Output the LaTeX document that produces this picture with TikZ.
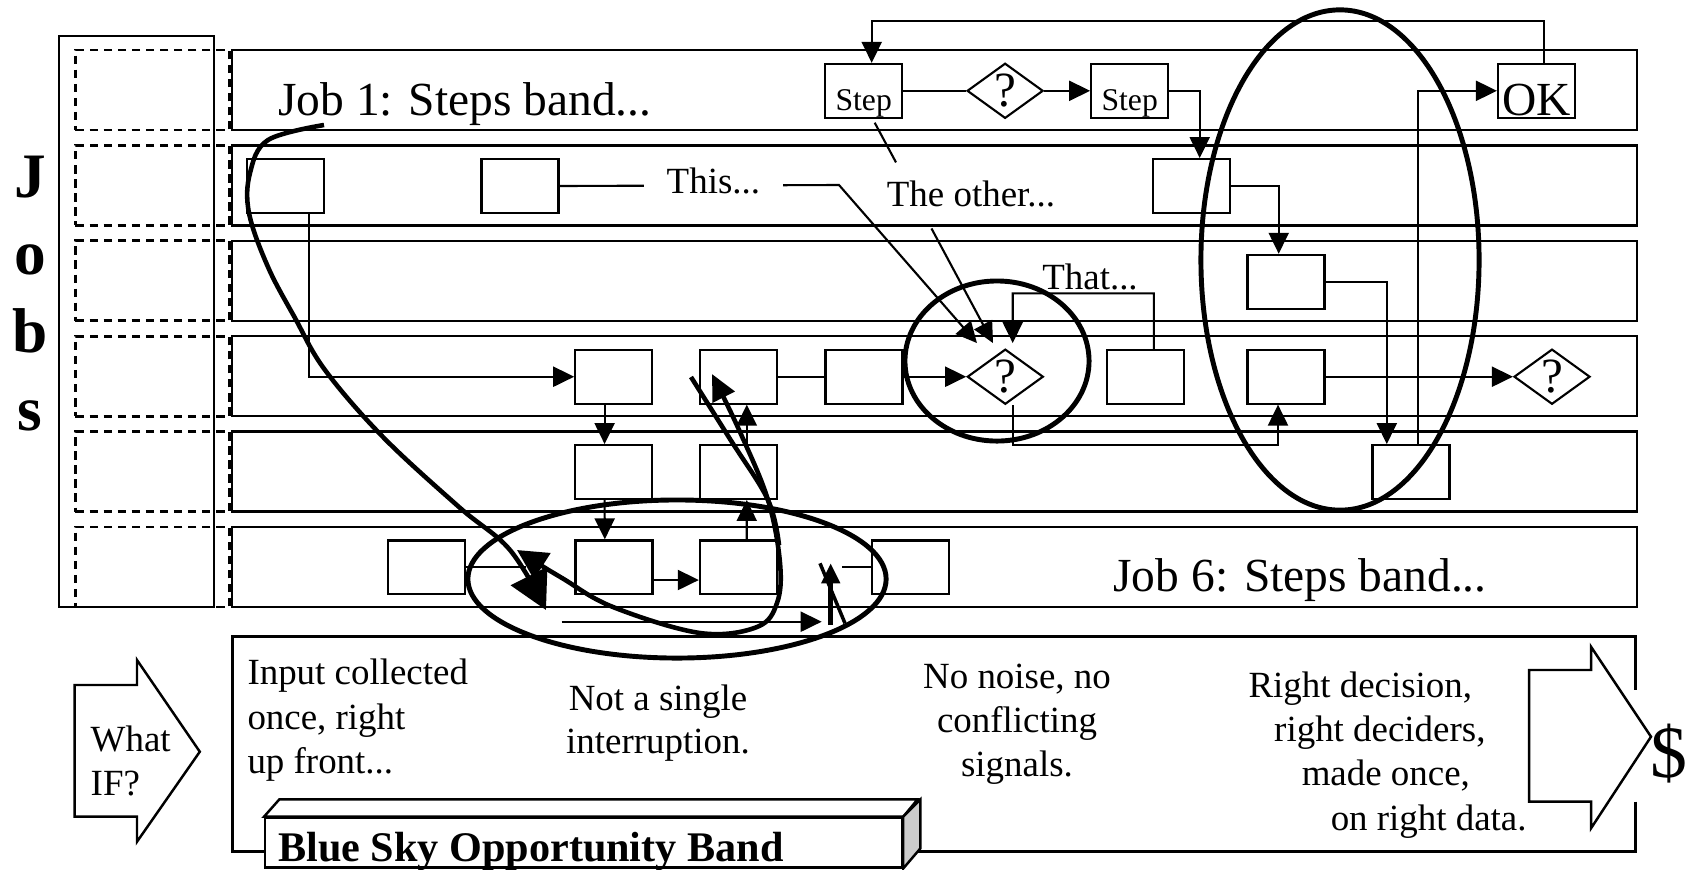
\documentclass[tikz,border=0pt]{standalone}
\usepackage{fontspec}
\setmainfont{Liberation Serif}
\usetikzlibrary{shapes.geometric,arrows.meta,calc}
\begin{document}
\begin{tikzpicture}[x=0.01cm,y=-0.01cm,
band/.style={draw, line width=0.7pt, minimum width=14.04cm, minimum height=0.8cm, inner sep=0pt},
slot/.style={draw, line width=0.8pt, dash pattern=on 2.4pt off 1.6pt, minimum width=1.54cm, minimum height=0.8cm, inner sep=0pt},
box/.style={draw, line width=0.6pt, minimum width=0.77cm, minimum height=0.537cm, inner sep=0pt},
stepbox/.style={box, font=\fontsize{9}{9}\selectfont, text height=13.2pt, text depth=2pt},
okbox/.style={box, font=\fontsize{13.5}{13.5}\selectfont, text height=14.5pt, text depth=0.6pt},
dec/.style={diamond, draw, line width=0.6pt, minimum width=0.76cm, minimum height=0.537cm, inner sep=0pt, font=\fontsize{14}{14}\selectfont},
ring/.style={draw, ellipse, line width=1.4pt, inner sep=0pt},
jobtxt/.style={font=\fontsize{13.5}{13.5}\selectfont, inner sep=0pt, anchor=base west},
vert/.style={font=\fontsize{18}{18}\selectfont\bfseries, inner sep=0pt, anchor=base},
lbl/.style={font=\fontsize{10.5}{10.5}\selectfont, inner sep=0pt, anchor=base},
note/.style={font=\fontsize{10.5}{12.6}\selectfont, inner sep=0pt, anchor=base west, align=left},
conn/.style={line width=0.6pt},
arr/.style={conn, -{Triangle[length=0.21cm,width=0.2cm]}},
scrib/.style={line width=1.3pt, line join=round}
]
\useasboundingbox (0,0) rectangle (1688,869);

\foreach \k in {1,...,6} {
  \node[slot] (slot\k) at (152.5,{90+95.4*(\k-1)}) {};
  \node[band] (band\k) at (934.5,{90+95.4*(\k-1)}) {};
}
\node[draw, line width=0.6pt, minimum width=1.55cm, minimum height=5.707cm, inner sep=0pt] (jobcol) at (136.8,321.35) {};
\foreach \ch [count=\i from 0] in {J,o,b,s}
  \node[vert] (jobs\i) at (30,{197+77.7*\i}) {\ch};

\node[jobtxt] (job1) at (277.5,115) {Job 1: Steps band...};
\node[jobtxt] (job6) at (1112.8,591.7) {Job 6: Steps band...};

\node[stepbox] (s1) at (863.7,90.8) {Step};
\node[dec] (d1) at (1005.1,90.8) {?};
\node[stepbox] (s2) at (1129.7,90.8) {Step};
\node[okbox] (ok) at (1536.5,90.8) {OK};

\node[box] (b2a) at (285.4,186) {};
\node[box] (b2b) at (520,186) {};
\node[box] (b2c) at (1191.7,186) {};

\node[box] (b3a) at (1286,281.7) {};

\node[box] (b4a) at (613.8,376.7) {};
\node[box] (b4b) at (738.5,376.7) {};
\node[box] (b4c) at (864,376.7) {};
\node[dec] (d2) at (1005.3,376.7) {?};
\node[box] (b4d) at (1145.3,376.7) {};
\node[box] (b4e) at (1286,376.7) {};
\node[dec] (d3) at (1552,376.7) {?};

\node[box] (b5a) at (613.8,472) {};
\node[box] (b5b) at (738.5,472) {};
\node[box] (b5c) at (1411,472) {};

\node[box] (b6a) at (426.7,567.3) {};
\node[box] (b6b) at (614,567.3) {};
\node[box] (b6c) at (738.4,567.3) {};
\node[box] (b6d) at (910.7,567.3) {};

\draw[conn] (s1) -- (d1);
\draw[arr] (d1) -- (s2);
\draw[arr] (s2.east) -| ([xshift=0.08cm]b2c.north);
\draw[arr] (b2c.east) -| ([xshift=-0.073cm]b3a.north);
\draw[arr] (b3a.east) -| ([xshift=-0.242cm]b5c.north);
\draw[arr] ([xshift=0.074cm]b5c.north) |- (ok.west);
\draw[arr] ([xshift=0.075cm]ok.north) -- ++(0,-41.7) -| ([xshift=0.08cm]s1.north);
\draw[arr] ([xshift=0.238cm]b2a.south) |- (b4a.west);
\draw[arr] ([xshift=-0.092cm]b4a.south) -- ([xshift=-0.092cm]b5a.north);
\draw[arr] ([xshift=-0.092cm]b5a.south) -- ([xshift=-0.092cm]b6b.north);
\draw[arr] ([yshift=-0.127cm]b6b.east) -- ([yshift=-0.127cm]b6c.west);
\draw[arr] ([xshift=0.083cm]b6c.north) -- ([xshift=0.083cm]b5b.south);
\draw[arr] ([xshift=0.083cm]b5b.north) -- ([xshift=0.083cm]b4b.south);
\draw[conn] (b4b) -- (b4c);
\draw[arr] (b4c) -- (d2);
\draw[arr] ([xshift=0.074cm]d2.south) -- ++(0,40) -| ([xshift=-0.08cm]b4e.south);
\draw[arr] (b4e) -- (d3);
\draw[conn] (b6a.east) -- ++(59.3,0);
\draw[conn] (b6d.west) -- ++(-29.5,0);

\coordinate (thistip) at ([xshift=-0.283cm,yshift=0.05cm]d2.north);
\coordinate (othertip) at ([xshift=-0.123cm,yshift=0.05cm]d2.north);
\coordinate (thattip) at ([xshift=0.074cm,yshift=0.05cm]d2.north);
\coordinate (thisc) at (839,185);
\coordinate (thatc) at (1012.7,293.3);
\coordinate (ostart) at ([xshift=0.11cm,yshift=-0.04cm]s1.south);

\draw[arr] (b2b.east) -- (thisc) -- (thistip);
\node[lbl, fill=white, inner xsep=0.23cm, inner ysep=0.03cm] (this) at (713.4,193.3) {This...};
\draw[conn] (ostart) -- ($(ostart)!0.18!(othertip)$);
\draw[arr] ($(ostart)!0.48!(othertip)$) -- (othertip);
\node[lbl] (other) at (971,206.7) {The other...};
\draw[arr] ([xshift=0.085cm]b4d.north) |- (thatc) -- (thattip);
\node[lbl] (that) at (1090,289.3) {That...};

\draw[line width=0.7pt] (264,851.7) -| (232.3,636.7) -| (1635.6,690);
\draw[line width=0.7pt] (1635.6,801.7) |- (917.6,851.7);

\draw[line width=0.7pt, fill=white] (74.6,685) -- (137,685) -- (137,660) -- (199.8,751.7) -- (137,841.7) -- (137,816.7) -- (74.6,816.7) -- cycle;
\draw[line width=0.7pt, fill=white] (1529.2,670) -- (1591,670) -- (1591,646.7) -- (1651,736.7) -- (1591,828.3) -- (1591,801.7) -- (1529.2,801.7) -- cycle;
\node[note, font=\fontsize{10.5}{12.3}\selectfont] (whatif) at (90,795) {What\\IF?};
\node[font=\fontsize{21}{21}\selectfont, inner sep=0pt, anchor=base] (dollar) at (1669,777) {\$};

\node[draw, line width=0.7pt, fill=white, minimum width=6.364cm, minimum height=0.493cm, inner sep=0pt, anchor=north west] (bsky) at (264,816.7) {};
\draw[line width=0.7pt, fill=white] (bsky.north west) -- ++(15.4,-17.4) -- ++(638.2,0) -- (bsky.north east) -- cycle;
\draw[line width=0.7pt, fill=gray!40] (bsky.north east) -- ++(17.2,-17.4) -- ++(0,49) -- (bsky.south east) -- cycle;
\node[font=\fontsize{12}{12}\selectfont\bfseries, inner sep=0pt, anchor=base west] (bskytxt) at (277.5,861.7) {Blue Sky Opportunity Band};

\node[note] (input) at (246.8,773.3) {Input collected\\once, right\\up front...};
\node[note, align=center, anchor=base, font=\fontsize{10.5}{12.3}\selectfont] (single) at (658,753.3) {Not a single\\interruption.};
\node[note, align=center, anchor=base] (noise) at (1017,776.7) {No noise, no\\conflicting\\signals.};
\node[note] (right) at (1247.8,830) {Right decision,\\\hspace*{0.257cm}right deciders,\\\hspace*{0.532cm}made once,\\\hspace*{0.822cm}on right data.};

\node[ring, minimum width=2.78cm, minimum height=5cm] (bigring) at (1340,260) {};
\node[ring, minimum width=1.84cm, minimum height=1.6cm] (dring) at (997,361) {};
\node[ring, minimum width=4.18cm, minimum height=1.58cm] (lowring) at (677,579) {};

\draw[scrib, -{Triangle[length=0.38cm,width=0.4cm]}] plot[smooth, tension=0.6] coordinates {(324,125) (268,140) (250,173) (249,213) (268,267) (295,318) (325,370) (383,437) (459,507) (510,550) (546,610)};
\draw[scrib, {Triangle[length=0.3cm,width=0.3cm]}-{Triangle[length=0.26cm,width=0.24cm]}] plot[smooth, tension=0.6] coordinates {(517,550) (562,578) (613,607) (700,633) (757,627) (777,603) (780,563) (768,500) (740,432) (712,374)};
\draw[scrib] plot[smooth, tension=0.6] coordinates {(691,377) (730,439) (768,500) (779,545)};

\coordinate (runl) at (561.7,621.7);
\coordinate (runr) at (821.7,621.7);
\coordinate (upb) at (830.7,625);
\coordinate (upt) at (830.7,563.3);
\coordinate (slt) at (820,563.3);
\coordinate (slb) at (845,623.3);
\draw[arr] (runl) -- (runr);
\draw[scrib, -{Triangle[length=0.2cm,width=0.18cm]}] (upb) -- (upt);
\draw[line width=1pt] (slt) -- (slb);
\end{tikzpicture}
\end{document}
